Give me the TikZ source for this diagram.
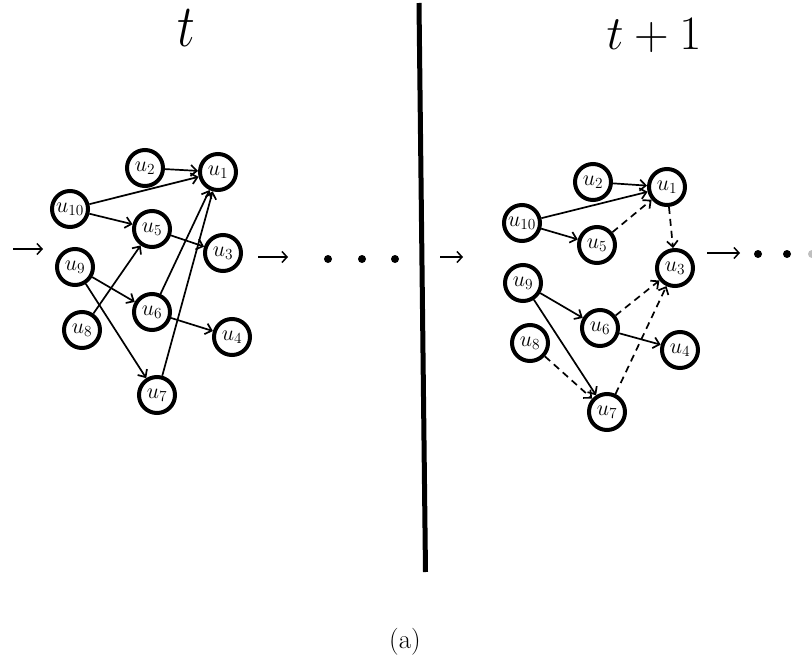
\documentclass[tikz,border=0pt]{standalone}
\usepackage{fix-cm}
\usetikzlibrary{arrows.meta}
\tikzset{
  vtx/.style={circle, draw, line width=4pt, minimum size=36pt, inner sep=0pt, font=\fontsize{22}{26}\selectfont},
  edge/.style={line width=1.7pt, -{Straight Barb[length=6pt,width=11pt,line width=1.7pt]}},
  dedge/.style={edge, dash pattern=on 7pt off 5pt},
  free/.style={line width=1.5pt, -{Straight Barb[length=5pt,width=11pt,line width=1.5pt]}},
  dotn/.style={circle, fill=black, inner sep=0pt, minimum size=8pt}
}
\begin{document}
\begin{tikzpicture}[x=1pt,y=-1pt]
\useasboundingbox (0,0) rectangle (812,661);
% titles
\node[anchor=base, font=\fontsize{50}{60}\selectfont] (tl) at (186,47) {\scalebox{1}[1.2]{$t$}};
\node[anchor=base, font=\fontsize{48}{58}\selectfont] (tr) at (654,50) {$t+1$};
\node[anchor=base, font=\fontsize{27}{32}\selectfont] (cap) at (405,648) {(a)};
% separator
\draw[line width=5pt] (419,3) -- (425.5,572);
% left graph
\node[vtx] (a1) at (218,172) {$u_1$};
\node[vtx] (a2) at (145,168) {$u_2$};
\node[vtx] (a10) at (70,209) {$u_{10}$};
\node[vtx] (a5) at (152,229) {$u_5$};
\node[vtx] (a3) at (223,253) {$u_3$};
\node[vtx] (a9) at (75,267) {$u_9$};
\node[vtx] (a6) at (152,312) {$u_6$};
\node[vtx] (a8) at (82,330) {$u_8$};
\node[vtx] (a4) at (232,337) {$u_4$};
\node[vtx] (a7) at (157,395) {$u_7$};
\draw[edge] (a2) -- (a1);
\draw[edge] (a10) -- (a1);
\draw[edge] (a10) -- (a5);
\draw[edge] (a5) -- (a3);
\draw[edge] (a9) -- (a6);
\draw[edge] (a9) -- (a7);
\draw[edge] (a8) -- (a5);
\draw[edge] (a6) -- (a1);
\draw[edge] (a6) -- (a4);
\draw[edge] (a7) -- (a1);
% left free arrows and dots
\coordinate (la0) at (13,249); \coordinate (la1) at (43,249);
\draw[free] (la0) -- (la1);
\coordinate (lb0) at (258,257); \coordinate (lb1) at (288,257);
\draw[free] (lb0) -- (lb1);
\node[dotn] (d1) at (328,259) {};
\node[dotn] (d2) at (362,259) {};
\node[dotn] (d3) at (395,259) {};
% right graph
\node[vtx] (b1) at (667,187) {$u_1$};
\node[vtx] (b2) at (593,182) {$u_2$};
\node[vtx] (b10) at (522,223) {$u_{10}$};
\node[vtx] (b5) at (597,245) {$u_5$};
\node[vtx] (b3) at (675,268) {$u_3$};
\node[vtx] (b9) at (523,283) {$u_9$};
\node[vtx] (b6) at (600,328) {$u_6$};
\node[vtx] (b8) at (530,343) {$u_8$};
\node[vtx] (b4) at (680,350) {$u_4$};
\node[vtx] (b7) at (607,412) {$u_7$};
\draw[edge] (b2) -- (b1);
\draw[edge] (b10) -- (b1);
\draw[edge] (b10) -- (b5);
\draw[dedge] (b5) -- (b1);
\draw[dedge] (b1) -- (b3);
\draw[edge] (b9) -- (b6);
\draw[edge] (b9) -- (b7);
\draw[dedge] (b8) -- (b7);
\draw[dedge] (b6) -- (b3);
\draw[dedge] (b7) -- (b3);
\draw[edge] (b6) -- (b4);
% right free arrows and dots
\coordinate (ra0) at (440,257); \coordinate (ra1) at (463,257);
\draw[free] (ra0) -- (ra1);
\coordinate (rb0) at (707,253); \coordinate (rb1) at (740,253);
\draw[free] (rb0) -- (rb1);
\node[dotn] (e1) at (758,254) {};
\node[dotn] (e2) at (787,254) {};
\node[dotn, fill=black!25] (e3) at (812,254) {};
\end{tikzpicture}
\end{document}
